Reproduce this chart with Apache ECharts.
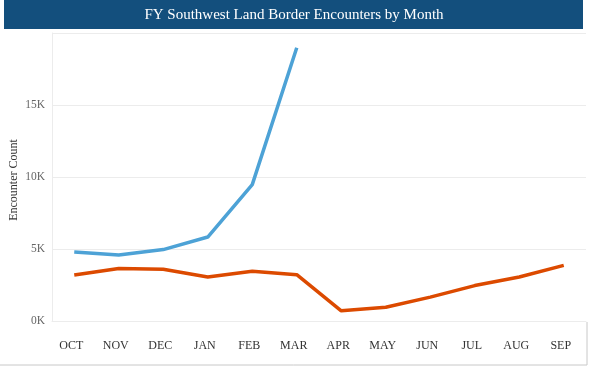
<!DOCTYPE html>
<html><head><meta charset="utf-8">
<script src="https://cdn.jsdelivr.net/npm/echarts@6/dist/echarts.min.js"></script>
<style>html,body{margin:0;padding:0;background:#fff}#c{width:590px;height:367px}</style>
</head><body><div id="c"></div>
<script>
const months = ['OCT','NOV','DEC','JAN','FEB','MAR','APR','MAY','JUN','JUL','AUG','SEP'];
const fyCurrent = [4790, 4590, 4960, 5830, 9470, 18970, null, null, null, null, null, null];
const fyPrior = [3190, 3650, 3600, 3050, 3460, 3220, 710, 950, 1660, 2460, 3060, 3860];
const yTicks = [0, 5000, 10000, 15000, 20000];
const yAxisTitle = 'Encounter Count';

const chart = echarts.init(document.getElementById('c'));
const serif = '"Liberation Serif","DejaVu Serif",serif';
chart.setOption({
  animation: false,
  graphic: [
    {type:'rect', shape:{x:4,y:0,width:579,height:29}, style:{fill:'#134f7d'}},
    {type:'text', x:294, y:15, style:{text:'FY Southwest Land Border Encounters by Month', fill:'#fff', font:'15px '+serif, textAlign:'center', textVerticalAlign:'middle'}},
    {type:'text', x:14, y:180, rotation:Math.PI/2, style:{text:yAxisTitle, fill:'#333', font:'12px '+serif, textAlign:'center', textVerticalAlign:'middle'}},
    {type:'line', shape:{x1:0,y1:365,x2:587,y2:365}, style:{stroke:'#c8c8c8',lineWidth:1}},
    {type:'line', shape:{x1:587,y1:322,x2:587,y2:365}, style:{stroke:'#c8c8c8',lineWidth:1}}
  ],
  grid: {left: 52, right: 4, top: 33, bottom: 46, outerBoundsMode: 'none', containLabel: false},
  xAxis: {
    type: 'category', data: months, boundaryGap: true,
    axisLine: {lineStyle: {color: '#ececec'}}, axisTick: {show: false},
    axisLabel: {color: '#333', fontFamily: serif, fontSize: 12, margin: 19, padding: [0, 6, 0, 0]}
  },
  yAxis: {
    type: 'value', min: yTicks[0], max: yTicks[yTicks.length-1], interval: 5000,
    axisLine: {show: true, lineStyle: {color: '#ececec'}}, axisTick: {show: false},
    splitLine: {lineStyle: {color: '#ececec'}},
    axisLabel: {color: '#666', fontFamily: serif, fontSize: 11.5, margin: 7, showMaxLabel: false,
      formatter: v => (v/1000) + 'K'}
  },
  series: [
    {type:'line', data: fyPrior, symbol:'none', lineStyle:{color:'#dc4a00', width:3.5}, z:2},
    {type:'line', data: fyCurrent, symbol:'none', lineStyle:{color:'#4da2d6', width:3.5}, z:3}
  ]
});
</script></body></html>
